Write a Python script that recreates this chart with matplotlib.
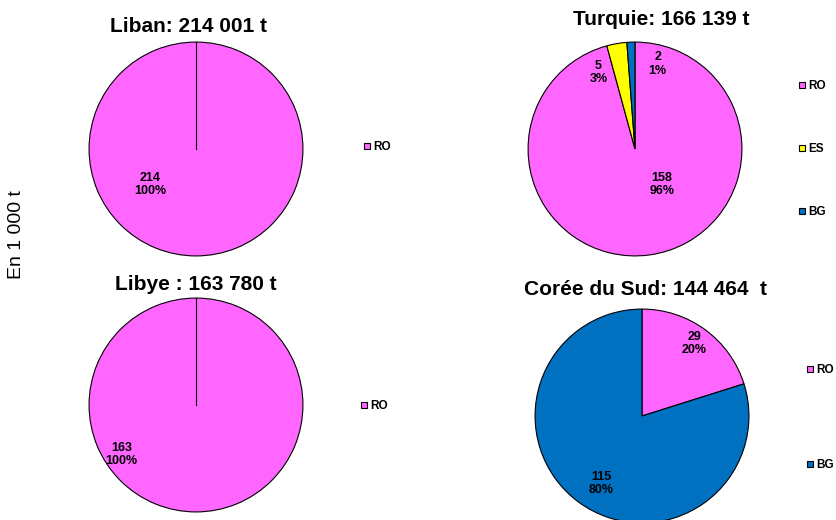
import matplotlib
matplotlib.use("Agg")
import matplotlib.pyplot as plt
from matplotlib.lines import Line2D

plt.rcParams['font.family'] = ['Liberation Sans', 'DejaVu Sans']

titles = ["Liban: 214 001 t", "Turquie: 166 139 t", "Libye : 163 780 t", "Corée du Sud: 144 464  t"]
cats_liban = ["RO"]
vals_liban = [214]
cats_turquie = ["RO", "ES", "BG"]
vals_turquie = [158, 5, 2]
cats_libye = ["RO"]
vals_libye = [163]
cats_coree = ["RO", "BG"]
vals_coree = [29, 115]
ylabel = "En 1 000 t"

colors = {"RO": "#FF66FF", "ES": "#FFFF00", "BG": "#0070C0"}

W, H = 836, 520
fig = plt.figure(figsize=(W / 100, H / 100), dpi=100)

R = 108  # pixel radius


def add_pie(cx, cy, cats, vals, label_offsets, title, title_pos, legend_pos, legend_spacing):
    ax = fig.add_axes([(cx - R) / W, (H - cy - R) / H, 2 * R / W, 2 * R / H])
    wedges, _ = ax.pie(vals, colors=[colors[c] for c in cats], startangle=90, counterclock=False,
                       radius=1, wedgeprops=dict(edgecolor='black', linewidth=0.8))
    for w in wedges:
        w.set_clip_on(False)
    if len(vals) == 1:
        # edge of the single full slice (from centre to 12 o'clock)
        ax.plot([0, 0], [0, 1], color='black', lw=0.8)
    ax.set_xlim(-1.01, 1.01)
    ax.set_ylim(-1.01, 1.01)
    ax.set_aspect('equal')
    ax.axis('off')
    total = sum(vals)
    for v, (dx, dy) in zip(vals, label_offsets):
        pct = round(100 * v / total)
        ax.text(dx / R, dy / R, f"{v}\n{pct}%", ha='center', va='center',
                fontsize=9, fontweight='bold', linespacing=1.15)
    tx, ty = title_pos
    fig.text(tx / W, 1 - ty / H, title, ha='center', va='baseline',
             fontsize=15, fontweight='bold')
    handles = [Line2D([], [], marker='s', ls='', markersize=4.5, markerfacecolor=colors[c],
                      markeredgecolor='black', markeredgewidth=0.8) for c in cats]
    lx, ly = legend_pos
    fig.legend(handles, cats, loc='upper left', bbox_to_anchor=(lx / W, 1 - ly / H),
               frameon=False, handlelength=0.7, handletextpad=0.15,
               labelspacing=legend_spacing, borderpad=0, borderaxespad=0,
               prop=dict(size=8.5, weight='bold'))
    return ax


add_pie(196, 149, cats_liban, vals_liban, [(-46, -36)], titles[0], (188, 32), (363, 141), 1)
add_pie(635, 149, cats_turquie, vals_turquie, [(27, -36), (-37, 77), (23, 86)], titles[1],
        (661, 25), (798, 80), 4.34)
add_pie(196, 405, cats_libye, vals_libye, [(-75, -50)], titles[2], (196, 290), (360, 400), 1)
add_pie(642, 416, cats_coree, vals_coree, [(53, 73), (-41, -68)], titles[3], (646, 295),
        (806, 364), 7.07)

fig.text(17 / W, 1 - 235 / H, ylabel, rotation=90, ha='center', va='center', fontsize=14)

fig.savefig("out.png", dpi=100)
